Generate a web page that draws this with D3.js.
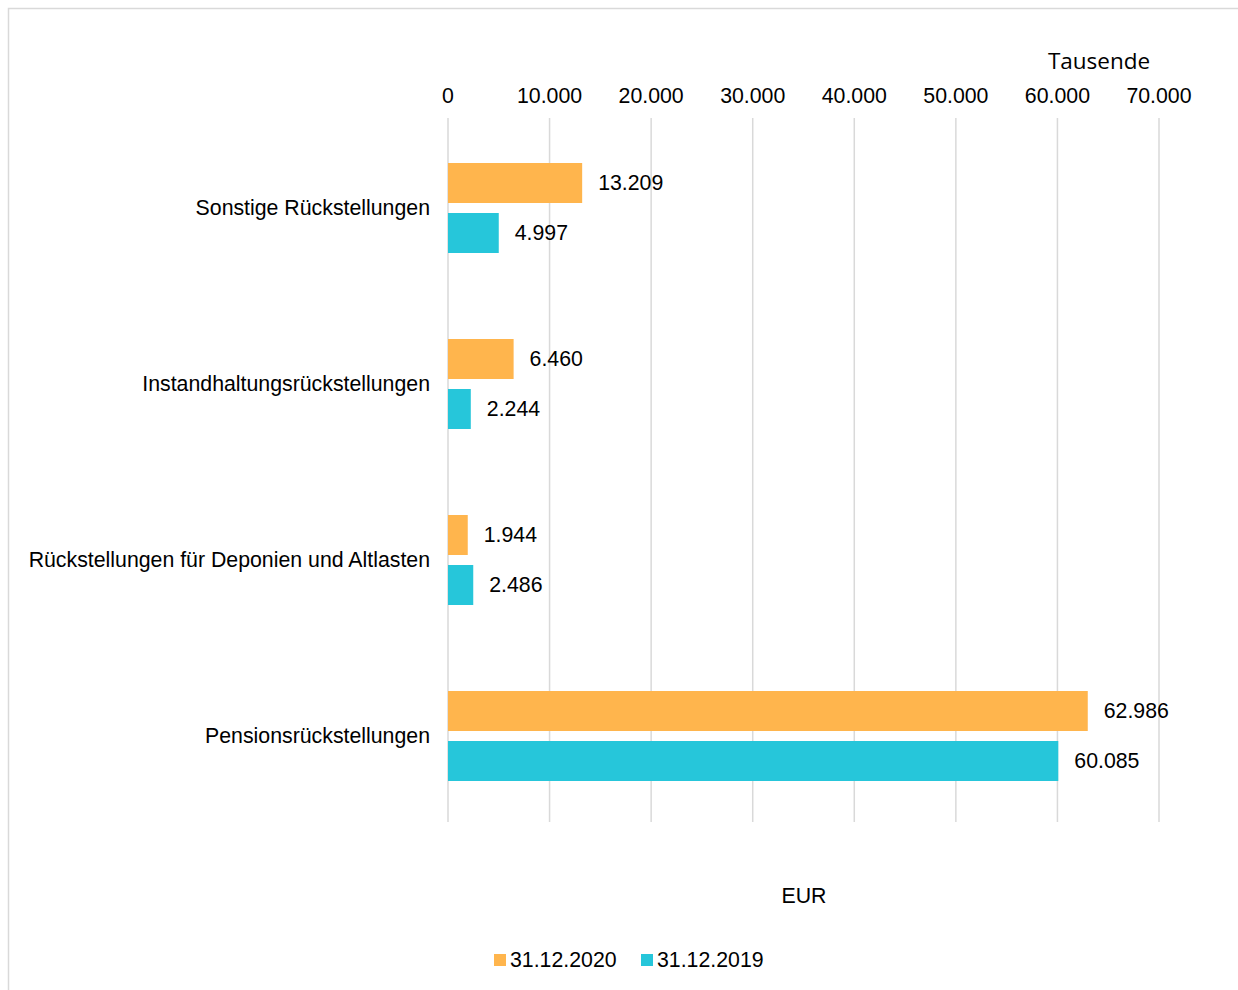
<!DOCTYPE html>
<html>
<head>
<meta charset="utf-8">
<script src="https://cdn.jsdelivr.net/npm/d3@7"></script>
<style>
  body { margin: 0; background: #fff; }
  svg text { font-family: "Liberation Sans", Arial, sans-serif; fill: #000; font-size: 21.3px; }
</style>
</head>
<body>
<div id="chart"></div>
<script>
var categories = ["Sonstige Rückstellungen", "Instandhaltungsrückstellungen",
                  "Rückstellungen für Deponien und Altlasten", "Pensionsrückstellungen"];
var seriesNames = ["31.12.2020", "31.12.2019"];
var values2020 = [13209, 6460, 1944, 62986];
var values2019 = [4997, 2244, 2486, 60085];
var tickValues = [0, 10000, 20000, 30000, 40000, 50000, 60000, 70000];
var colors = ["#FFB54D", "#26C6DA"];

var width = 1238, height = 990;
var de = d3.formatLocale({decimal: ",", thousands: ".", grouping: [3], currency: ["", " €"]});
var fmt = de.format(",");

var svg = d3.select("#chart").append("svg")
  .attr("width", width).attr("height", height);

// chart frame
svg.append("rect")
  .attr("x", 8.5).attr("y", 8.5)
  .attr("width", 1240).attr("height", 1000)
  .attr("fill", "none").attr("stroke", "#d9d9d9").attr("stroke-width", 1.5);

var x = d3.scaleLinear().domain([0, 70000]).range([448, 1159]);
var y = d3.scaleBand().domain(categories).range([118, 822]);
var ySub = d3.scaleBand().domain(seriesNames).range([45, 135]).paddingInner(0.2);

// gridlines
svg.append("g").selectAll("line")
  .data(tickValues).enter().append("line")
    .attr("x1", function(d){ return x(d); })
    .attr("x2", function(d){ return x(d); })
    .attr("y1", 118).attr("y2", 822)
    .attr("stroke", "#d9d9d9").attr("stroke-width", 1.5);

// top axis labels
svg.append("g").selectAll("text")
  .data(tickValues).enter().append("text")
    .attr("x", function(d){ return x(d); })
    .attr("y", 103)
    .attr("text-anchor", "middle")
    .text(function(d){ return fmt(d); });

svg.append("text")
  .attr("x", 1099).attr("y", 69)
  .attr("text-anchor", "middle")
  .style("font-family", "'Open Sans', sans-serif")
  .style("font-size", "22.5px")
  .text("Tausende");

// category labels
svg.append("g").selectAll("text")
  .data(categories).enter().append("text")
    .attr("x", 430)
    .attr("y", function(d){ return y(d) + 90; })
    .attr("dy", "0.35em")
    .attr("text-anchor", "end")
    .text(function(d){ return d; });

var series = [values2020, values2019];
series.forEach(function(vals, s) {
  var g = svg.append("g");
  g.selectAll("rect")
    .data(vals).enter().append("rect")
      .attr("x", x(0))
      .attr("y", function(d, i){ return y(categories[i]) + ySub(seriesNames[s]); })
      .attr("width", function(d){ return x(d) - x(0); })
      .attr("height", ySub.bandwidth())
      .attr("fill", colors[s]);
  g.selectAll("text")
    .data(vals).enter().append("text")
      .attr("x", function(d){ return x(d) + 16; })
      .attr("y", function(d, i){ return y(categories[i]) + ySub(seriesNames[s]) + ySub.bandwidth() / 2; })
      .attr("dy", "0.35em")
      .text(function(d){ return fmt(d); });
});

// axis title
svg.append("text")
  .attr("x", 804).attr("y", 903)
  .attr("text-anchor", "middle")
  .text("EUR");

// legend
var legendX = [494, 641];
var legend = svg.append("g").selectAll("g")
  .data(seriesNames).enter().append("g")
    .attr("transform", function(d, i){ return "translate(" + legendX[i] + ",954)"; });
legend.append("rect")
  .attr("width", 12).attr("height", 12)
  .attr("fill", function(d, i){ return colors[i]; });
legend.append("text")
  .attr("x", 16).attr("y", 6)
  .attr("dy", "0.35em")
  .text(function(d){ return d; });
</script>
</body>
</html>
